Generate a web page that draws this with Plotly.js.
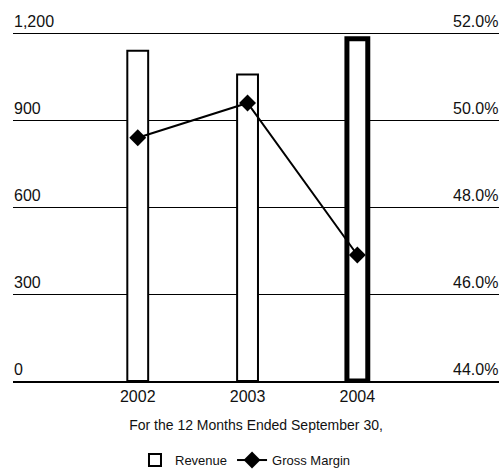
<!DOCTYPE html>
<html><head><meta charset="utf-8">
<script src="https://cdn.plot.ly/plotly-3.0.1.min.js"></script>
<style>body{margin:0;padding:0;background:#fff}#chart{width:501px;height:469px}</style>
</head><body><div id="chart"></div>
<script>
var years = ['2002', '2003', '2004'];
var revenue = [1140, 1058, 1182];
var grossMargin = [49.6, 50.4, 46.9];
var barLineWidths = [2, 2, 5];
var revenueTicks = [0, 300, 600, 900, 1200];
var revenueTickText = ['0', '300', '600', '900', '1,200'];
var marginTicks = [44, 46, 48, 50, 52];
var marginTickText = ['44.0%', '46.0%', '48.0%', '50.0%', '52.0%'];

var FONT = 'Liberation Sans, Arial, Helvetica, sans-serif';

var traces = [
  {
    type: 'bar', name: 'Revenue', x: [0, 1, 2], y: revenue, width: 0.19,
    marker: {color: '#ffffff', line: {color: '#000000', width: barLineWidths}},
    yaxis: 'y'
  },
  {
    type: 'scatter', mode: 'lines+markers', name: 'Gross Margin', x: [0, 1, 2], y: grossMargin,
    line: {color: '#000000', width: 2},
    marker: {symbol: 'diamond', size: 13, color: '#000000'},
    yaxis: 'y2'
  }
];

var annotations = [];
revenueTicks.forEach(function (v, i) {
  annotations.push({xref: 'paper', x: 0, xanchor: 'left', yref: 'y', y: v, yanchor: 'bottom',
    yshift: 2, text: revenueTickText[i], showarrow: false, font: {size: 16, color: '#111'}, borderpad: 0});
});
marginTicks.forEach(function (v, i) {
  annotations.push({xref: 'paper', x: 1, xanchor: 'right', yref: 'y2', y: v, yanchor: 'bottom',
    yshift: 2, text: marginTickText[i], showarrow: false, font: {size: 16, color: '#111'}, borderpad: 0});
});

var layout = {
  width: 501, height: 469,
  margin: {l: 13, r: 2, t: 30, b: 88},
  paper_bgcolor: '#fff', plot_bgcolor: '#fff',
  font: {family: FONT, color: '#111', size: 13},
  showlegend: true,
  legend: {orientation: 'h', x: 0.49, xanchor: 'center', xref: 'container', y: 0.019, yref: 'container', yanchor: 'middle',
           font: {size: 13}, traceorder: 'normal'},
  xaxis: {
    range: [-1.136, 3.29], tickvals: [0, 1, 2], ticktext: years,
    showgrid: false, zeroline: false, showline: true, linecolor: '#000', linewidth: 2,
    ticks: '', tickfont: {size: 16},
    title: {text: 'For the 12 Months Ended September 30,', font: {size: 14}, standoff: 16}
  },
  yaxis: {
    range: [0, 1212], tickvals: revenueTicks, showticklabels: false,
    showgrid: true, gridcolor: '#000', gridwidth: 1, zeroline: false, showline: false,
    ticks: ''
  },
  yaxis2: {
    range: [44, 52.08], overlaying: 'y', side: 'right', showgrid: false, zeroline: false,
    showline: false, showticklabels: false, ticks: ''
  },
  annotations: annotations
};

Plotly.newPlot('chart', traces, layout, {staticPlot: true, displayModeBar: false});
</script></body></html>
